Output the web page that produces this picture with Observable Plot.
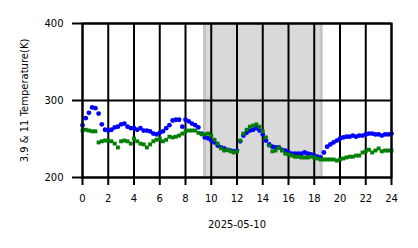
<!DOCTYPE html>
<html>
<head>
<meta charset="utf-8">
<script src="https://cdn.jsdelivr.net/npm/d3@7"></script>
<script src="https://cdn.jsdelivr.net/npm/@observablehq/plot@0.6"></script>
<style>
  html, body { margin: 0; padding: 0; background: #fff; }
  #chart { width: 418px; height: 248px; }
</style>
</head>
<body>
<div id="chart"></div>
<script>
const dateLabel = "2025-05-10";
const yLabel = "3.9 & 11 Temperature(K)";
const xTicks = [0, 2, 4, 6, 8, 10, 12, 14, 16, 18, 20, 22, 24];
const yTicks = [200, 300, 400];
const shadeStart = 9.4;
const shadeEnd = 18.62;

const hours = [
  0, 0.25, 0.5, 0.75, 1, 1.25, 1.5, 1.75, 2, 2.25, 2.5, 2.75,
  3, 3.25, 3.5, 3.75, 4, 4.25, 4.5, 4.75, 5, 5.25, 5.5, 5.75,
  6, 6.25, 6.5, 6.75, 7, 7.25, 7.5, 7.75, 8, 8.25, 8.5, 8.75,
  9, 9.25, 9.5, 9.75, 10, 10.25, 10.5, 10.75, 11, 11.25, 11.5, 11.75,
  12, 12.25, 12.5, 12.75, 13, 13.25, 13.5, 13.75, 14, 14.25, 14.5, 14.75,
  15, 15.25, 15.5, 15.75, 16, 16.25, 16.5, 16.75, 17, 17.25, 17.5, 17.75,
  18, 18.25, 18.5, 18.75, 19, 19.25, 19.5, 19.75, 20, 20.25, 20.5, 20.75,
  21, 21.25, 21.5, 21.75, 22, 22.25, 22.5, 22.75, 23, 23.25, 23.5, 23.75, 24
];

const t39 = [
  268, 277, 284, 291, 290, 283, 269, 262, 261, 262, 265, 266,
  269, 270, 266, 264, 264, 262, 264, 261, 261, 260, 257, 256,
  258, 260, 264, 268, 274, 275, 275, 266, 275, 273, 270, 268,
  265, 257, 252, 251, 248, 245.5, 241.5, 239, 237.7, 236, 235, 234,
  235, 247, 254.5, 258, 261, 262, 264, 261, 256, 248, 243, 240,
  239, 239, 236, 235, 232.5, 231, 231, 231, 231, 232.5, 231, 230,
  228.5, 227, 226, 232.5, 240, 243, 245.5, 248, 250.6, 252, 253, 253,
  254.5, 253, 254.5, 254.5, 256, 257, 257, 256, 256, 254.5, 256, 256, 257
];

const t11 = [
  261, 262, 261, 260, 260, 245.5, 247, 248, 248, 247, 244, 239,
  247, 248, 247, 244, 250.6, 247, 244, 243, 239, 243, 247, 249,
  250.6, 247, 249, 253, 252, 253, 254.5, 257, 260, 261, 261, 261,
  258, 256, 256, 257, 254.5, 249, 244, 238, 235, 236, 234, 232.5,
  234, 248, 257, 262, 266, 267.5, 269, 266, 260, 252, 241.5, 234,
  235, 239, 235, 231, 230, 228.5, 227, 227, 226, 226, 226, 227,
  226, 224.7, 223.4, 223.4, 223.4, 223.4, 223.4, 222, 223.4, 224.7, 226, 227,
  227, 228.5, 228.5, 232.5, 234, 236, 232.5, 235, 237.7, 234, 235, 235, 235
];

const blueData = hours.map((h, i) => ({h, T: t39[i]}));
const greenData = hours.map((h, i) => ({h, T: t11[i]}));
const shade = [{x1: shadeStart, x2: shadeEnd}];

const chart = Plot.plot({
  width: 418,
  height: 248,
  marginLeft: 82,
  marginRight: 27,
  marginTop: 23,
  marginBottom: 71,
  style: {fontFamily: "DejaVu Sans", fontSize: "10px", background: "#fff", color: "#000"},
  x: {domain: [0, 24]},
  y: {domain: [200, 400]},
  marks: [
    Plot.rect(shade, {x1: "x1", x2: "x2", y1: 200, y2: 400, fill: "#d9d9d9"}),
    Plot.ruleX(shade, {x: "x1", y1: 200, y2: 400, stroke: "#c6c6c6", strokeWidth: 3, dx: 1}),
    Plot.ruleX(shade, {x: "x2", y1: 200, y2: 400, stroke: "#c6c6c6", strokeWidth: 3, dx: -1}),
    Plot.gridX(xTicks, {stroke: "#000", strokeOpacity: 1, strokeWidth: 2}),
    Plot.gridY(yTicks, {stroke: "#000", strokeOpacity: 1, strokeWidth: 2}),
    Plot.axisX(xTicks, {
      tickSize: 8, strokeWidth: 2, tickPadding: 9, tickFormat: d => String(d),
      label: dateLabel, labelAnchor: "center", labelArrow: "none", labelOffset: 50
    }),
    Plot.axisY(yTicks, {
      tickSize: 10, strokeWidth: 2, tickPadding: 9, tickFormat: d => String(d),
      label: yLabel, labelAnchor: "center", labelArrow: "none", labelOffset: 62
    }),
    Plot.dot(blueData, {x: "h", y: "T", r: 2.4, fill: "#0000ff", stroke: "none"}),
    Plot.dot(greenData, {x: "h", y: "T", symbol: "square", r: 2.2, fill: "#008000", stroke: "none"}),
    Plot.frame({stroke: "#000", strokeWidth: 2})
  ]
});
document.getElementById("chart").appendChild(chart);
</script>
</body>
</html>
